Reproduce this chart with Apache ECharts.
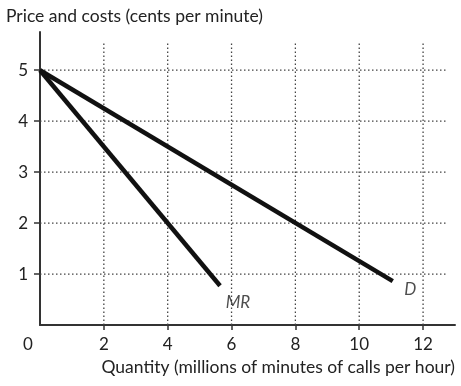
<!DOCTYPE html>
<html><head><meta charset="utf-8">
<script src="https://cdn.jsdelivr.net/npm/echarts@6/dist/echarts.min.js"></script>
<style>html,body{margin:0;padding:0;background:#fff}#c{width:461px;height:386px}</style>
</head><body><div id="c"></div>
<script>
// data
const xTicks = [0, 2, 4, 6, 8, 10, 12];
const yTicks = [1, 2, 3, 4, 5];
const demand = [[0, 5], [11.05, 0.86]];
const marginalRevenue = [[0, 5], [5.64, 0.77]];
const labels = [{ name: 'MR', x: 6.2, y: 0.45 }, { name: 'D', x: 11.6, y: 0.7 }];
const gridTopValue = 5.53;
const gridRightValue = 12.75;

const FONT = 'Lato';
const FS = 17.5;
const gridColor = '#444';
const gridSeries = [];
xTicks.filter(v => v > 0).forEach(v => gridSeries.push({
  type: 'line', data: [[v, 0], [v, gridTopValue]], symbol: 'none', silent: true,
  lineStyle: { color: gridColor, width: 1.3, type: [1.5, 2.5] }, z: 1
}));
yTicks.forEach(v => gridSeries.push({
  type: 'line', data: [[0, v], [gridRightValue, v]], symbol: 'none', silent: true,
  lineStyle: { color: gridColor, width: 1.3, type: [1.5, 2.5] }, z: 1
}));

const chart = echarts.init(document.getElementById('c'));
chart.setOption({
  animation: false,
  backgroundColor: '#fff',
  grid: { left: 40, right: 6, top: 32, bottom: 61 },
  title: {
    text: 'Price and costs (cents per minute)', left: 1, top: 2,
    textStyle: { fontFamily: FONT, fontSize: FS, fontWeight: 'normal', color: '#222' }
  },
  xAxis: {
    type: 'value', min: 0, max: 13, interval: 2,
    name: 'Quantity (millions of minutes of calls per hour)',
    nameLocation: 'end', nameGap: 0,
    nameTextStyle: { fontFamily: FONT, fontSize: FS, color: '#222', align: 'right', verticalAlign: 'top', padding: [33, 0, 0, 0] },
    axisLine: { lineStyle: { color: '#333', width: 2 } },
    axisTick: { show: true, length: 5, lineStyle: { color: '#333', width: 1.5 },
      customValues: xTicks.filter(v => v > 0) },
    axisLabel: {
      margin: 11, fontFamily: FONT, fontSize: 17, color: '#222',
      customValues: xTicks,
      formatter: v => v === 0 ? '{o|0}' : String(v),
      rich: { o: { fontFamily: FONT, fontSize: 17, color: '#222', padding: [0, 24, 0, 0] } }
    },
    splitLine: { show: false }
  },
  yAxis: {
    type: 'value', min: 0, max: 5.75, interval: 1,
    axisLine: { show: true, lineStyle: { color: '#333', width: 2 } },
    axisTick: { show: true, length: 6, lineStyle: { color: '#333', width: 1.5 }, customValues: yTicks },
    axisLabel: { margin: 12, fontFamily: FONT, fontSize: 17, color: '#222', customValues: yTicks },
    splitLine: { show: false }
  },
  series: gridSeries.concat([
    { type: 'line', data: demand, symbol: 'none', lineStyle: { color: '#111', width: 4.5 }, z: 5 },
    { type: 'line', data: marginalRevenue, symbol: 'none', lineStyle: { color: '#111', width: 4.5 }, z: 5 },
    { type: 'scatter', symbolSize: 0, z: 6,
      data: labels.map(l => ({ value: [l.x, l.y], name: l.name })),
      label: { show: true, position: 'inside', formatter: p => p.name,
        fontFamily: FONT, fontStyle: 'italic', fontSize: 17, color: '#222' } }
  ])
});
</script></body></html>
